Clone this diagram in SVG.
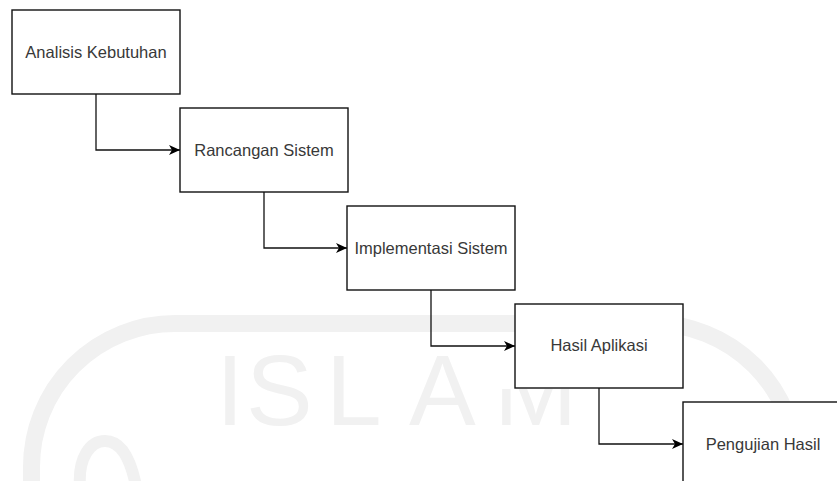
<svg xmlns="http://www.w3.org/2000/svg" width="837" height="481" viewBox="0 0 837 481">
  <defs>
    <marker id="arrow" markerUnits="userSpaceOnUse" markerWidth="14" markerHeight="14" viewBox="-12 -7 14 14" refX="0" refY="0" orient="auto">
      <path d="M0,0 L-11,-5 L-8,0 L-11,5 Z" fill="#000"/>
    </marker>
    <clipPath id="below-box">
      <rect x="480" y="389" width="140" height="60"/>
    </clipPath>
    <style>
      .box { fill: #fff; stroke: #111; stroke-width: 1.4; }
      .label { font-family: "Liberation Sans", Arial, sans-serif; font-size: 16.5px; fill: #383838; text-anchor: middle; }
      .edge { fill: none; stroke: #111; stroke-width: 1.3; }
      .mark { fill: none; stroke: #f1f1f1; }
      .mark-text { font-family: "Liberation Sans", Arial, sans-serif; font-size: 100px; fill: #f1f1f1; }
    </style>
  </defs>

  <rect width="837" height="481" fill="#fff"/>

  <!-- background emblem -->
  <g id="emblem">
    <path class="mark" stroke-width="17" d="M31.5,500 V467 A143.5,143.5 0 0 1 175,323.5 H653 A143.5,143.5 0 0 1 796.5,467 V500"/>
    <path class="mark" stroke-width="12" d="M80,486 C78,458 90,441 105,441 C120,441 130,456 136,486"/>
    <text class="mark-text" x="216 246 326 409" y="425">ISLA</text>
    <text class="mark-text" x="494" y="425" clip-path="url(#below-box)">M</text>
  </g>

  <!-- connectors -->
  <g id="connectors">
    <path class="edge" d="M96,94 V150 H180" marker-end="url(#arrow)"/>
    <path class="edge" d="M264,192 V248 H347" marker-end="url(#arrow)"/>
    <path class="edge" d="M431,290 V346 H515" marker-end="url(#arrow)"/>
    <path class="edge" d="M599,388 V444 H683" marker-end="url(#arrow)"/>
  </g>

  <g id="analisis-kebutuhan">
    <rect class="box" x="12" y="10" width="168" height="84"/>
    <text class="label" x="96" y="58">Analisis Kebutuhan</text>
  </g>

  <g id="rancangan-sistem">
    <rect class="box" x="180" y="108" width="168" height="84"/>
    <text class="label" x="264" y="156">Rancangan Sistem</text>
  </g>

  <g id="implementasi-sistem">
    <rect class="box" x="347" y="206" width="168" height="84"/>
    <text class="label" x="431" y="254">Implementasi Sistem</text>
  </g>

  <g id="hasil-aplikasi">
    <rect class="box" x="515" y="304" width="168" height="84"/>
    <text class="label" x="599" y="351">Hasil Aplikasi</text>
  </g>

  <g id="pengujian-hasil">
    <rect class="box" x="683" y="402" width="168" height="84"/>
    <text class="label" x="763" y="450">Pengujian Hasil</text>
  </g>
</svg>
